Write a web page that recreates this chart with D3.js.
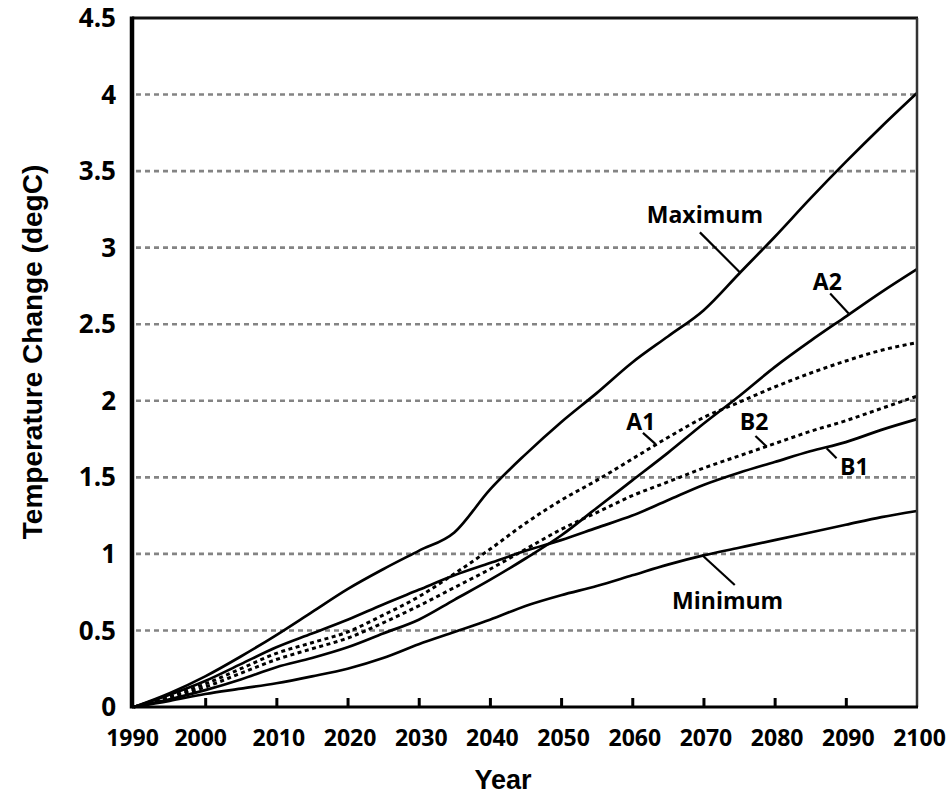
<!DOCTYPE html>
<html>
<head>
<meta charset="utf-8">
<script src="https://cdn.jsdelivr.net/npm/d3@7"></script>
<style>
  html, body { margin: 0; padding: 0; background: #fff; }
  svg { display: block; }
</style>
</head>
<body>
<svg id="chart" width="948" height="797"></svg>
<script>
// ---------------- data ----------------
const years = [1990, 1995, 2000, 2005, 2010, 2015, 2020, 2025, 2030, 2035, 2040, 2045, 2050,
               2055, 2060, 2065, 2070, 2075, 2080, 2085, 2090, 2095, 2100];
const maximum = [0, 0.09, 0.20, 0.33, 0.47, 0.62, 0.77, 0.90, 1.02, 1.14, 1.42, 1.65, 1.86,
                 2.05, 2.25, 2.42, 2.59, 2.83, 3.07, 3.32, 3.56, 3.79, 4.01];
const a2 = [0, 0.05, 0.11, 0.18, 0.26, 0.32, 0.39, 0.48, 0.57, 0.70, 0.83, 0.97, 1.12,
            1.30, 1.48, 1.66, 1.85, 2.03, 2.22, 2.39, 2.55, 2.71, 2.86];
const a1 = [0, 0.07, 0.15, 0.25, 0.35, 0.42, 0.49, 0.60, 0.72, 0.87, 1.03, 1.20, 1.35,
            1.48, 1.62, 1.76, 1.89, 1.99, 2.09, 2.18, 2.26, 2.33, 2.38];
const b2 = [0, 0.06, 0.13, 0.22, 0.31, 0.38, 0.45, 0.55, 0.66, 0.78, 0.90, 1.03, 1.16,
            1.27, 1.38, 1.47, 1.56, 1.64, 1.72, 1.80, 1.87, 1.95, 2.03];
const b1 = [0, 0.08, 0.17, 0.28, 0.39, 0.48, 0.57, 0.67, 0.765, 0.86, 0.94, 1.02, 1.09,
            1.17, 1.25, 1.35, 1.45, 1.53, 1.60, 1.67, 1.73, 1.81, 1.88];
const minimum = [0, 0.04, 0.085, 0.12, 0.155, 0.20, 0.25, 0.32, 0.41, 0.49, 0.57, 0.66, 0.73,
                 0.79, 0.86, 0.93, 0.99, 1.04, 1.09, 1.14, 1.19, 1.24, 1.28];

const seriesNames = ["Maximum", "A2", "A1", "B2", "B1", "Minimum"];
const seriesValues = [maximum, a2, a1, b2, b1, minimum];
const seriesDotted = [false, false, true, true, false, false];

const xTicks = [1990, 2000, 2010, 2020, 2030, 2040, 2050, 2060, 2070, 2080, 2090, 2100];
const yTicks = [0, 0.5, 1, 1.5, 2, 2.5, 3, 3.5, 4, 4.5];
const yTickLabels = ["0", "0.5", "1", "1.5", "2", "2.5", "3", "3.5", "4", "4.5"];
const gridValues = [0.5, 1, 1.5, 2, 2.5, 3, 3.5, 4];

// annotations (data coordinates): label anchor and leader line
const labelText  = ["Maximum", "A2", "A1", "B2", "B1", "Minimum"];
const labelYear  = [2070.2, 2087.4, 2061.2, 2077.1, 2091.2, 2073.4];
const labelValue = [3.16, 2.724, 1.81, 1.81, 1.515, 0.643];
const leaderFrom = [[2069.5, 3.10], [2087.8, 2.70], [2061.5, 1.79], [2077.3, 1.77], [2087.3, 1.69], [2069.8, 0.993]];
const leaderTo   = [[2075.1, 2.84], [2090.4, 2.57], [2063.2, 1.72], [2078.9, 1.70], [2088.7, 1.625], [2074.4, 0.797]];

const xTitle = "Year";
const yTitle = "Temperature Change (degC)";

// ---------------- drawing ----------------
const svg = d3.select("#chart");
const x = d3.scaleLinear().domain([1990, 2100]).range([134, 917]);
const y = d3.scaleLinear().domain([0, 4.5]).range([707, 18]);

const labelFont = "'Open Sans', 'Noto Sans', sans-serif";

// grid
svg.append("g").selectAll("line").data(gridValues).join("line")
  .attr("x1", x(1990) + 2).attr("x2", x(2100) - 2)
  .attr("y1", d => y(d)).attr("y2", d => y(d))
  .attr("stroke", "#848484").attr("stroke-width", 2.6)
  .attr("stroke-dasharray", "5,4");

// series
const line = d3.line().x((d, i) => x(years[i])).y(d => y(d)).curve(d3.curveMonotoneX);
svg.append("g").selectAll("path").data(seriesValues).join("path")
  .attr("d", d => line(d))
  .attr("fill", "none")
  .attr("stroke", "#000")
  .attr("stroke-width", (d, i) => seriesDotted[i] ? 3 : 2.7)
  .attr("stroke-dasharray", (d, i) => seriesDotted[i] ? "4,3.5" : null)
  .attr("stroke-linejoin", "round");

// frame
const frame = svg.append("g");
frame.append("line").attr("x1", x(1990) - 2).attr("x2", x(2100) + 1)
  .attr("y1", y(4.5)).attr("y2", y(4.5)).attr("stroke", "#111").attr("stroke-width", 3);
frame.append("line").attr("x1", x(2100)).attr("x2", x(2100))
  .attr("y1", y(4.5)).attr("y2", y(0)).attr("stroke", "#333").attr("stroke-width", 2.5);

// x axis
const xAxis = d3.axisBottom(x).tickValues(xTicks).tickSize(-9).tickFormat(d3.format("d")).tickPadding(23);
const gx = svg.append("g").attr("transform", `translate(0,${y(0)})`).call(xAxis);
gx.select(".domain").attr("stroke", "#000").attr("stroke-width", 3)
  .attr("d", `M${x(1990) - 2},0H${x(2100) + 1}`);
gx.selectAll(".tick line").attr("stroke", "#000").attr("stroke-width", 3)
  .filter(d => d === 1990 || d === 2100).remove();
gx.selectAll(".tick text")
  .attr("font-family", labelFont).attr("font-weight", 700).attr("font-size", 23)
  .attr("fill", "#000")
  .attr("dx", d => d === 1990 ? -2 : d === 2000 ? -5 : 2);

// y axis
const yAxis = d3.axisLeft(y).tickValues(yTicks).tickSize(0).tickPadding(16)
  .tickFormat((d, i) => yTickLabels[i]);
const gy = svg.append("g").attr("transform", `translate(${x(1990) - 2},0)`).call(yAxis);
gy.select(".domain").attr("stroke", "#000").attr("stroke-width", 4.5)
  .attr("d", `M0,${y(4.5) - 1.5}V${y(0) + 1.5}`);
gy.selectAll(".tick text")
  .attr("font-family", labelFont).attr("font-weight", 700).attr("font-size", 26)
  .attr("fill", "#000").attr("dy", "0.33em");

// annotations
const ann = svg.append("g");
ann.selectAll("line").data(labelText).join("line")
  .attr("x1", (d, i) => x(leaderFrom[i][0])).attr("y1", (d, i) => y(leaderFrom[i][1]))
  .attr("x2", (d, i) => x(leaderTo[i][0])).attr("y2", (d, i) => y(leaderTo[i][1]))
  .attr("stroke", "#000").attr("stroke-width", 2.2);
ann.selectAll("text").data(labelText).join("text")
  .attr("x", (d, i) => x(labelYear[i])).attr("y", (d, i) => y(labelValue[i]))
  .attr("text-anchor", "middle")
  .attr("font-family", labelFont).attr("font-weight", 700).attr("font-size", 23)
  .attr("fill", "#000")
  .text(d => d);

// titles
svg.append("text").attr("x", 503).attr("y", 789).attr("text-anchor", "middle")
  .attr("font-family", "'Liberation Sans', Arial, sans-serif").attr("font-weight", "bold")
  .attr("font-size", 27).attr("fill", "#000").text(xTitle);
svg.append("text").attr("transform", "translate(42,352) rotate(-90)").attr("text-anchor", "middle")
  .attr("font-family", "'Liberation Sans', Arial, sans-serif").attr("font-weight", "bold")
  .attr("font-size", 28).attr("fill", "#000").text(yTitle);
</script>
</body>
</html>
